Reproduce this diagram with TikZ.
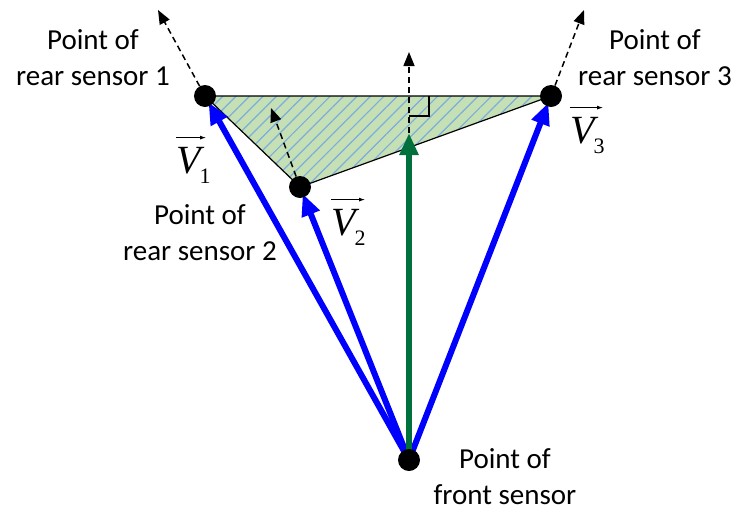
\documentclass[tikz,border=0pt]{standalone}
\usepackage{fontspec}
\setmainfont{Carlito}
\newfontfamily\timesf{Liberation Serif}
\usetikzlibrary{arrows.meta,patterns.meta}
\definecolor{fillgreen}{RGB}{197,224,180}
\definecolor{hatchblue}{RGB}{125,172,222}
\definecolor{arrowgreen}{RGB}{0,112,60}
\pgfdeclarelayer{bg}
\pgfsetlayers{bg,main}
\newcommand{\vecV}[1]{\itshape V\kern-1pt\raisebox{-10pt}{\upshape\fontsize{22}{22}\selectfont #1}}
\begin{document}
\begin{tikzpicture}[x=1pt,y=-1pt,
  dot/.style={circle,fill=black,inner sep=0pt,minimum size=22pt},
  lbl/.style={align=center,font=\fontsize{29}{36}\selectfont,inner sep=0pt},
  vlbl/.style={font=\timesf\fontsize{40}{40}\selectfont,inner sep=0pt,anchor=base west},
  overarrow/.style={line width=0.8pt,-{Latex[length=6pt,width=4pt]}},
  vecarrow/.style={line width=6pt,-{Triangle[length=22pt,width=18pt]}},
  dasharrow/.style={line width=1.5pt,dash pattern=on 6pt off 4pt,-{Triangle[length=14pt,width=11pt]}},
  edge/.style={line width=1.2pt}]
\useasboundingbox (0,0) rectangle (737,507);
% points
\node[dot] (p1) at (205,96) {};
\node[dot] (p2) at (300,187) {};
\node[dot] (p3) at (551,96) {};
\node[dot] (f) at (409,460) {};
\coordinate (gtip) at (409,133);
\coordinate (t1) at (158,10);
\coordinate (t2) at (271,108);
\coordinate (t3) at (584,10);
\coordinate (tn) at (409,52);
\begin{pgfonlayer}{bg}
  \fill[fillgreen] (p1.center) -- (p2.center) -- (p3.center) -- cycle;
  \fill[pattern={Lines[angle=45,distance=9.5pt,line width=1.2pt]},pattern color=hatchblue]
    (p1.center) -- (p2.center) -- (p3.center) -- cycle;
  \draw[edge] (p1.center) -- (p2.center) -- (p3.center) -- cycle;
  \draw[edge] (409,116) -- (429,116) -- (429,96);
  \draw[dasharrow] (p1) -- (t1);
  \draw[dasharrow] (p2) -- (t2);
  \draw[dasharrow] (p3) -- (t3);
  \draw[dasharrow] (gtip) -- (tn);
  \draw[vecarrow,blue,shorten >=-4pt] (f.center) -- (p1);
  \draw[vecarrow,blue,shorten >=-4pt] (f.center) -- (p2);
  \draw[vecarrow,blue,shorten >=-4pt] (f.center) -- (p3);
  \draw[vecarrow,arrowgreen] (f.center) -- (gtip);
\end{pgfonlayer}
% labels
\node[lbl] (l1) at (93,58) {Point of\\rear sensor 1};
\node[lbl] (l2) at (200,233) {Point of\\rear sensor 2};
\node[lbl] (l3) at (655,58) {Point of\\rear sensor 3};
\node[lbl] (lf) at (505,477) {Point of\\front sensor};
\node[vlbl] (v1) at (176,173) {\vecV{1}};
\node[vlbl] (v2) at (331,235) {\vecV{2}};
\node[vlbl] (v3) at (570,143) {\vecV{3}};
\draw[overarrow] ([yshift=9pt]v1.north west) -- ++(30,0);
\draw[overarrow] ([yshift=9pt]v2.north west) -- ++(34,0);
\draw[overarrow] ([yshift=9pt]v3.north west) -- ++(33,0);
\end{tikzpicture}
\end{document}
